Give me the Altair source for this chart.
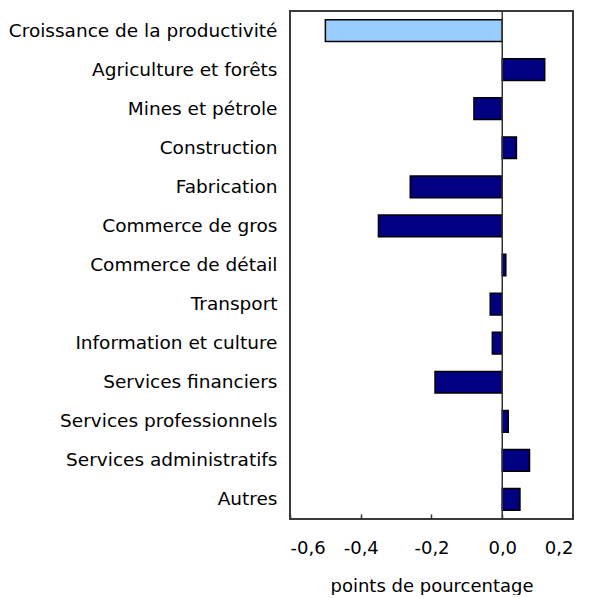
import altair as alt
import pandas as pd

categories = [
    "Croissance de la productivité",
    "Agriculture et forêts",
    "Mines et pétrole",
    "Construction",
    "Fabrication",
    "Commerce de gros",
    "Commerce de détail",
    "Transport",
    "Information et culture",
    "Services financiers",
    "Services professionnels",
    "Services administratifs",
    "Autres",
]
values = [-0.50, 0.12, -0.08, 0.04, -0.26, -0.35, 0.01, -0.034, -0.028, -0.19, 0.017, 0.077, 0.05]
groups = ["total"] + ["secteur"] * 12
x_ticks = [-0.6, -0.4, -0.2, 0.0, 0.2]
zero = [0.0]

df = pd.DataFrame({"cat": categories, "val": values, "grp": groups})

FONT = "DejaVu Sans"

bars = alt.Chart(df).mark_bar(stroke="#000000", strokeWidth=1.5).encode(
    y=alt.Y(
        "cat:N",
        sort=categories,
        title=None,
        scale=alt.Scale(paddingInner=0.445, paddingOuter=0.2225),
        axis=alt.Axis(
            domain=False,
            ticks=False,
            labelFont=FONT,
            labelFontSize=18.5,
            labelColor="#000000",
            labelPadding=13,
            labelLimit=400,
        ),
    ),
    x=alt.X(
        "val:Q",
        title="points de pourcentage",
        scale=alt.Scale(domain=[-0.6, 0.2], nice=False, zero=False),
        axis=alt.Axis(
            values=x_ticks,
            labelExpr="replace(replace(format(datum.value, '.1f'), '.', ','), '\u2212', '-')",
            domain=False,
            grid=False,
            tickSize=5,
            tickColor="#333333",
            tickWidth=1.5,
            offset=-5,
            labelFont=FONT,
            labelFontSize=18,
            labelColor="#000000",
            labelPadding=20,
            titleFont=FONT,
            titleFontSize=18,
            titleFontWeight="normal",
            titleColor="#000000",
            titlePadding=20,
        ),
    ),
    color=alt.Color(
        "grp:N",
        scale=alt.Scale(domain=["total", "secteur"], range=["#99CCFF", "#000080"]),
        legend=None,
    ),
)

zero_line = alt.Chart(pd.DataFrame({"z": zero})).mark_rule(
    color="#333333", strokeWidth=1.5
).encode(x=alt.X("z:Q"))

chart = (
    alt.layer(bars, zero_line)
    .properties(
        width=283,
        height=508,
        background="#ffffff",
        padding={"left": 0, "top": 2, "right": 0, "bottom": 0},
    )
    .configure_view(stroke="#3a3a3a", strokeWidth=2)
)

chart.save("out.html", embed_options={"renderer": "svg", "actions": False})
